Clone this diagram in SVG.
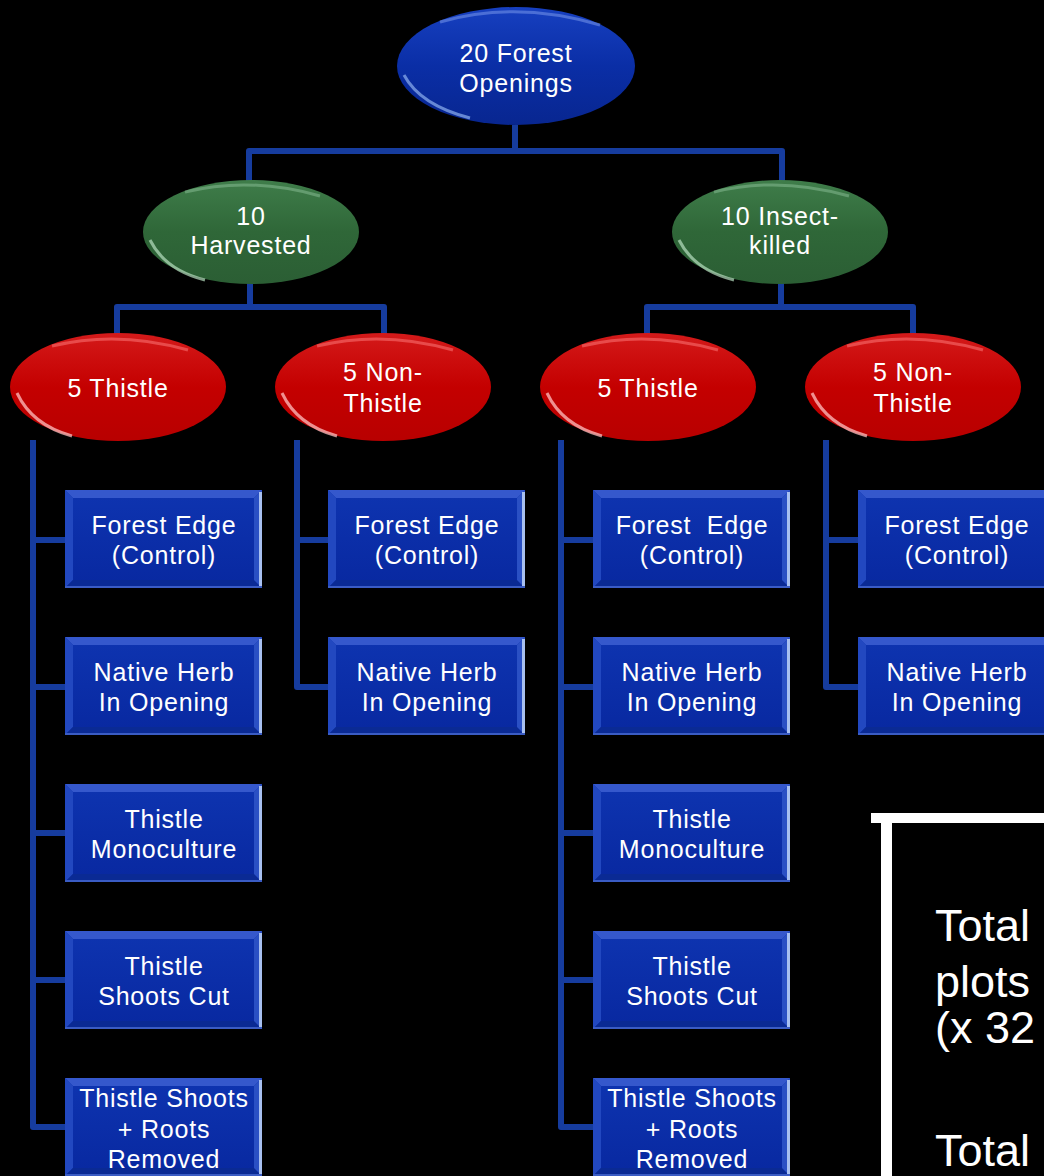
<svg xmlns="http://www.w3.org/2000/svg" width="1044" height="1176" viewBox="0 0 1044 1176">
<style>
text{font-family:"Liberation Sans",Arial,sans-serif;fill:#ffffff;text-anchor:middle}
.t{font-size:25px;letter-spacing:0.8px}
.big{font-size:45px;text-anchor:start;letter-spacing:0}
.conn{fill:none;stroke:#163c9e;stroke-width:6;stroke-linejoin:round}
.connhi{fill:none;stroke:#4f74cc;stroke-width:1.2}
</style>
<defs>
<linearGradient id="gBlue" x1="0" y1="0" x2="0" y2="1">
<stop offset="0" stop-color="#1740c0"/><stop offset="0.5" stop-color="#0a2ea6"/><stop offset="1" stop-color="#082690"/>
</linearGradient>
<linearGradient id="gGreen" x1="0" y1="0" x2="0" y2="1">
<stop offset="0" stop-color="#3f7d4a"/><stop offset="0.5" stop-color="#2f6738"/><stop offset="1" stop-color="#2b5e34"/>
</linearGradient>
<linearGradient id="gRed" x1="0" y1="0" x2="0" y2="1">
<stop offset="0" stop-color="#d41a1a"/><stop offset="0.5" stop-color="#c40000"/><stop offset="1" stop-color="#b80000"/>
</linearGradient>
<linearGradient id="gBox" x1="0" y1="0" x2="0" y2="1">
<stop offset="0" stop-color="#0e34b0"/><stop offset="1" stop-color="#0828a0"/>
</linearGradient>
<symbol id="box" viewBox="0 0 197 98" width="197" height="98">
<rect x="0" y="0" width="197" height="98" fill="url(#gBox)"/>
<polygon points="0,0 197,0 189,8 8,8" fill="#3558cc"/>
<polygon points="0,0 8,8 8,90 0,98" fill="#2248c0"/>
<polygon points="0,98 8,90 189,90 197,98" fill="#0a2a94"/>
<polygon points="197,0 197,98 189,90 189,8" fill="#2a50c4"/>
<rect x="194" y="2" width="3" height="94" fill="#a8c0f0"/>
<rect x="0" y="96" width="197" height="2" fill="#3a5cc4"/>
</symbol>
</defs>
<rect x="0" y="0" width="1044" height="1176" fill="#000000"/>

<g id="connectors">
<path class="conn" d="M515,125 V151 M249,183 V151 H782 V183"/>
<path class="conn" d="M250,283 V307 M117,334 V307 H384 V334"/>
<path class="conn" d="M781,283 V307 M647,334 V307 H913 V334"/>
<path class="conn" d="M33,440 V1127 H65 M33,540 H65 M33,687 H65 M33,833 H65 M33,980 H65"/>
<path class="conn" d="M297,440 V687 H328 M297,540 H328"/>
<path class="conn" d="M561,440 V1127 H593 M561,540 H593 M561,687 H593 M561,833 H593 M561,980 H593"/>
<path class="conn" d="M826,440 V687 H858 M826,540 H858"/>
</g>

<g id="n-top">
<ellipse cx="516" cy="66" rx="119" ry="59" fill="url(#gBlue)"/>
<path d="M404,75 Q420,105 470,118" fill="none" stroke="#8fb0f0" stroke-width="3" stroke-opacity="0.7"/>
<path d="M440,22 Q516,0 600,25" fill="none" stroke="#6f90e6" stroke-width="3" stroke-opacity="0.6"/>
<text class="t" x="516" y="62">20 Forest</text>
<text class="t" x="516" y="92">Openings</text>
</g>

<g id="n-harvested">
<ellipse cx="251" cy="232" rx="108" ry="52" fill="url(#gGreen)"/>
<path d="M150,240 Q165,270 205,280" fill="none" stroke="#b8e0c0" stroke-width="3" stroke-opacity="0.7"/>
<path d="M185,192 Q250,176 320,196" fill="none" stroke="#8cc098" stroke-width="3" stroke-opacity="0.5"/>
<text class="t" x="251" y="225">10</text>
<text class="t" x="251" y="254">Harvested</text>
</g>

<g id="n-insect">
<ellipse cx="780" cy="232" rx="108" ry="52" fill="url(#gGreen)"/>
<path d="M679,240 Q694,270 734,280" fill="none" stroke="#b8e0c0" stroke-width="3" stroke-opacity="0.7"/>
<path d="M714,192 Q779,176 849,196" fill="none" stroke="#8cc098" stroke-width="3" stroke-opacity="0.5"/>
<text class="t" x="780" y="225">10 Insect-</text>
<text class="t" x="780" y="254">killed</text>
</g>

<g id="n-h-thistle">
<ellipse cx="118" cy="387" rx="108" ry="54" fill="url(#gRed)"/>
<path d="M17,393 Q32,425 72,436" fill="none" stroke="#ffc0c0" stroke-width="3" stroke-opacity="0.75"/>
<path d="M52,346 Q118,330 188,350" fill="none" stroke="#ff8080" stroke-width="3" stroke-opacity="0.5"/>
<text class="t" x="118" y="397">5 Thistle</text>
</g>

<g id="n-h-nonthistle">
<ellipse cx="383" cy="387" rx="108" ry="54" fill="url(#gRed)"/>
<path d="M282,393 Q297,425 337,436" fill="none" stroke="#ffc0c0" stroke-width="3" stroke-opacity="0.75"/>
<path d="M317,346 Q383,330 453,350" fill="none" stroke="#ff8080" stroke-width="3" stroke-opacity="0.5"/>
<text class="t" x="383" y="381">5 Non-</text>
<text class="t" x="383" y="412">Thistle</text>
</g>

<g id="n-i-thistle">
<ellipse cx="648" cy="387" rx="108" ry="54" fill="url(#gRed)"/>
<path d="M547,393 Q562,425 602,436" fill="none" stroke="#ffc0c0" stroke-width="3" stroke-opacity="0.75"/>
<path d="M582,346 Q648,330 718,350" fill="none" stroke="#ff8080" stroke-width="3" stroke-opacity="0.5"/>
<text class="t" x="648" y="397">5 Thistle</text>
</g>

<g id="n-i-nonthistle">
<ellipse cx="913" cy="387" rx="108" ry="54" fill="url(#gRed)"/>
<path d="M812,393 Q827,425 867,436" fill="none" stroke="#ffc0c0" stroke-width="3" stroke-opacity="0.75"/>
<path d="M847,346 Q913,330 983,350" fill="none" stroke="#ff8080" stroke-width="3" stroke-opacity="0.5"/>
<text class="t" x="913" y="381">5 Non-</text>
<text class="t" x="913" y="412">Thistle</text>
</g>

<!-- column 1 -->
<g id="b1-1"><use href="#box" x="65" y="490"/><text class="t" x="164" y="534">Forest Edge</text><text class="t" x="164" y="564">(Control)</text></g>
<g id="b1-2"><use href="#box" x="65" y="637"/><text class="t" x="164" y="681">Native Herb</text><text class="t" x="164" y="711">In Opening</text></g>
<g id="b1-3"><use href="#box" x="65" y="784"/><text class="t" x="164" y="828">Thistle</text><text class="t" x="164" y="858">Monoculture</text></g>
<g id="b1-4"><use href="#box" x="65" y="931"/><text class="t" x="164" y="975">Thistle</text><text class="t" x="164" y="1005">Shoots Cut</text></g>
<g id="b1-5"><use href="#box" x="65" y="1078"/><text class="t" x="164" y="1107">Thistle Shoots</text><text class="t" x="164" y="1138">+ Roots</text><text class="t" x="164" y="1168">Removed</text></g>

<!-- column 2 -->
<g id="b2-1"><use href="#box" x="328" y="490"/><text class="t" x="427" y="534">Forest Edge</text><text class="t" x="427" y="564">(Control)</text></g>
<g id="b2-2"><use href="#box" x="328" y="637"/><text class="t" x="427" y="681">Native Herb</text><text class="t" x="427" y="711">In Opening</text></g>

<!-- column 3 -->
<g id="b3-1"><use href="#box" x="593" y="490"/><text class="t" x="692" y="534" xml:space="preserve">Forest  Edge</text><text class="t" x="692" y="564">(Control)</text></g>
<g id="b3-2"><use href="#box" x="593" y="637"/><text class="t" x="692" y="681">Native Herb</text><text class="t" x="692" y="711">In Opening</text></g>
<g id="b3-3"><use href="#box" x="593" y="784"/><text class="t" x="692" y="828">Thistle</text><text class="t" x="692" y="858">Monoculture</text></g>
<g id="b3-4"><use href="#box" x="593" y="931"/><text class="t" x="692" y="975">Thistle</text><text class="t" x="692" y="1005">Shoots Cut</text></g>
<g id="b3-5"><use href="#box" x="593" y="1078"/><text class="t" x="692" y="1107">Thistle Shoots</text><text class="t" x="692" y="1138">+ Roots</text><text class="t" x="692" y="1168">Removed</text></g>

<!-- column 4 -->
<g id="b4-1"><use href="#box" x="858" y="490"/><text class="t" x="957" y="534">Forest Edge</text><text class="t" x="957" y="564">(Control)</text></g>
<g id="b4-2"><use href="#box" x="858" y="637"/><text class="t" x="957" y="681">Native Herb</text><text class="t" x="957" y="711">In Opening</text></g>

<g id="summary">
<rect x="871" y="813" width="180" height="10" fill="#ffffff"/>
<rect x="881" y="813" width="11" height="370" fill="#ffffff"/>
<text class="big" x="935" y="941">Total</text>
<text class="big" x="935" y="997">plots</text>
<text class="big" x="935" y="1043">(x 32</text>
<text class="big" x="935" y="1166">Total</text>
</g>
</svg>
